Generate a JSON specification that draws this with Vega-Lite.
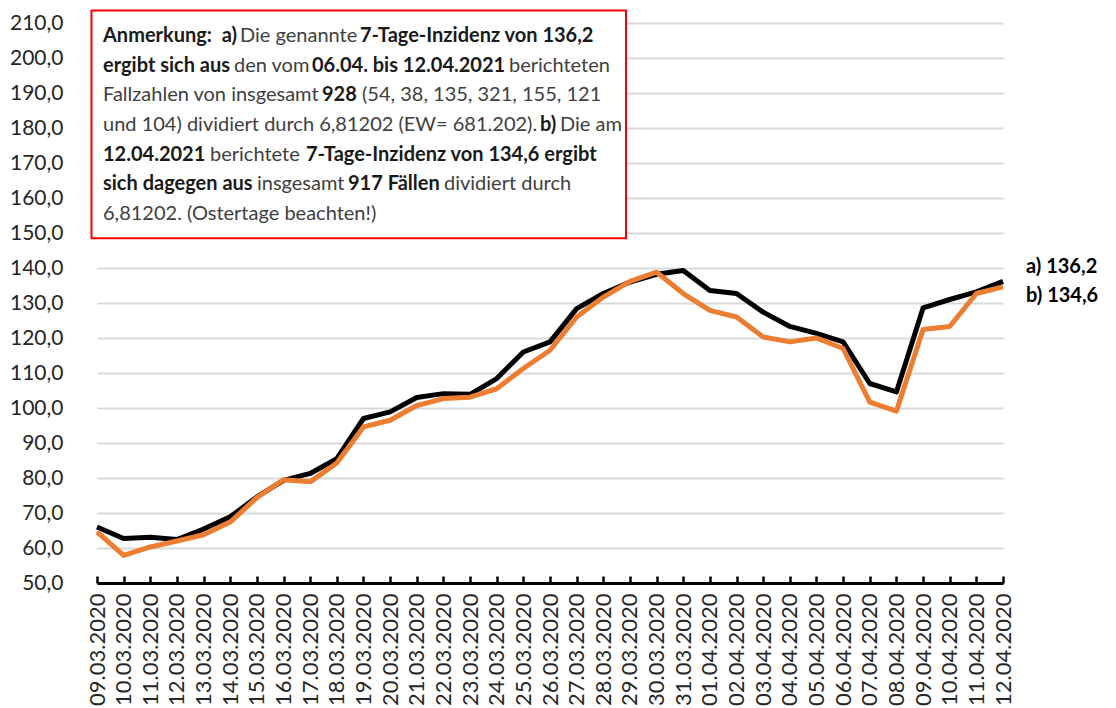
{
  "$schema": "https://vega.github.io/schema/vega-lite/v6.json",
  "autosize": "none",
  "width": 906,
  "height": 560,
  "padding": {"left": 97, "top": 23, "right": 113, "bottom": 125},
  "background": "#ffffff",
  "config": {
    "view": {"stroke": null},
    "text": {"font": "Lato", "fontSize": 20, "align": "left", "baseline": "middle", "color": "#404040"},
    "axisY": {
      "labelOverlap": false,
      "labelExpr": "replace(format(datum.value, '.1f'), '.', ',')",
      "domain": false, "ticks": false, "labelPadding": 34, "labelFont": "Lato", "labelFontSize": 21,
      "labelColor": "#262626", "gridColor": "#d9d9d9", "gridWidth": 2
    }
  },
  "datasets": {
    "series": [
      {"date": "2020-03-09", "s": "a", "v": 66.0}, {"date": "2020-03-09", "s": "b", "v": 64.6},
      {"date": "2020-03-10", "s": "a", "v": 62.7}, {"date": "2020-03-10", "s": "b", "v": 57.9},
      {"date": "2020-03-11", "s": "a", "v": 63.1}, {"date": "2020-03-11", "s": "b", "v": 60.3},
      {"date": "2020-03-12", "s": "a", "v": 62.4}, {"date": "2020-03-12", "s": "b", "v": 62.0},
      {"date": "2020-03-13", "s": "a", "v": 65.4}, {"date": "2020-03-13", "s": "b", "v": 63.8},
      {"date": "2020-03-14", "s": "a", "v": 68.9}, {"date": "2020-03-14", "s": "b", "v": 67.4},
      {"date": "2020-03-15", "s": "a", "v": 74.6}, {"date": "2020-03-15", "s": "b", "v": 74.4},
      {"date": "2020-03-16", "s": "a", "v": 79.3}, {"date": "2020-03-16", "s": "b", "v": 79.5},
      {"date": "2020-03-17", "s": "a", "v": 81.3}, {"date": "2020-03-17", "s": "b", "v": 78.9},
      {"date": "2020-03-18", "s": "a", "v": 85.5}, {"date": "2020-03-18", "s": "b", "v": 84.3},
      {"date": "2020-03-19", "s": "a", "v": 97.0}, {"date": "2020-03-19", "s": "b", "v": 94.6},
      {"date": "2020-03-20", "s": "a", "v": 98.9}, {"date": "2020-03-20", "s": "b", "v": 96.5},
      {"date": "2020-03-21", "s": "a", "v": 103.0}, {"date": "2020-03-21", "s": "b", "v": 100.7},
      {"date": "2020-03-22", "s": "a", "v": 104.1}, {"date": "2020-03-22", "s": "b", "v": 102.7},
      {"date": "2020-03-23", "s": "a", "v": 103.9}, {"date": "2020-03-23", "s": "b", "v": 103.1},
      {"date": "2020-03-24", "s": "a", "v": 108.4}, {"date": "2020-03-24", "s": "b", "v": 105.5},
      {"date": "2020-03-25", "s": "a", "v": 116.0}, {"date": "2020-03-25", "s": "b", "v": 111.3},
      {"date": "2020-03-26", "s": "a", "v": 118.9}, {"date": "2020-03-26", "s": "b", "v": 116.5},
      {"date": "2020-03-27", "s": "a", "v": 128.4}, {"date": "2020-03-27", "s": "b", "v": 126.0},
      {"date": "2020-03-28", "s": "a", "v": 132.7}, {"date": "2020-03-28", "s": "b", "v": 131.7},
      {"date": "2020-03-29", "s": "a", "v": 136.0}, {"date": "2020-03-29", "s": "b", "v": 136.2},
      {"date": "2020-03-30", "s": "a", "v": 138.2}, {"date": "2020-03-30", "s": "b", "v": 138.8},
      {"date": "2020-03-31", "s": "a", "v": 139.3}, {"date": "2020-03-31", "s": "b", "v": 132.7},
      {"date": "2020-04-01", "s": "a", "v": 133.6}, {"date": "2020-04-01", "s": "b", "v": 127.9},
      {"date": "2020-04-02", "s": "a", "v": 132.7}, {"date": "2020-04-02", "s": "b", "v": 126.0},
      {"date": "2020-04-03", "s": "a", "v": 127.4}, {"date": "2020-04-03", "s": "b", "v": 120.3},
      {"date": "2020-04-04", "s": "a", "v": 123.3}, {"date": "2020-04-04", "s": "b", "v": 118.9},
      {"date": "2020-04-05", "s": "a", "v": 121.3}, {"date": "2020-04-05", "s": "b", "v": 120.0},
      {"date": "2020-04-06", "s": "a", "v": 118.9}, {"date": "2020-04-06", "s": "b", "v": 117.0},
      {"date": "2020-04-07", "s": "a", "v": 107.0}, {"date": "2020-04-07", "s": "b", "v": 101.7},
      {"date": "2020-04-08", "s": "a", "v": 104.6}, {"date": "2020-04-08", "s": "b", "v": 99.1},
      {"date": "2020-04-09", "s": "a", "v": 128.6}, {"date": "2020-04-09", "s": "b", "v": 122.4},
      {"date": "2020-04-10", "s": "a", "v": 131.0}, {"date": "2020-04-10", "s": "b", "v": 123.3},
      {"date": "2020-04-11", "s": "a", "v": 133.2}, {"date": "2020-04-11", "s": "b", "v": 132.7},
      {"date": "2020-04-12", "s": "a", "v": 136.2}, {"date": "2020-04-12", "s": "b", "v": 134.6}
    ],
    "one": [{"k": 1}]
  },
  "layer": [
    {
      "data": {"name": "series"},
      "mark": {"type": "line", "strokeWidth": 5, "strokeJoin": "round"},
      "encoding": {
        "x": {
          "field": "date", "type": "temporal",
          "scale": {"type": "utc", "domain": [1583712000000, 1586649600000], "nice": false},
          "axis": {
            "title": null, "format": "%d.%m.%Y", "tickCount": {"interval": "day", "step": 1},
            "grid": false, "labelAngle": -90, "labelAlign": "right", "labelBaseline": "middle",
            "labelFlush": false, "labelOverlap": false, "labelFont": "Lato", "labelFontSize": 22,
            "labelColor": "#262626", "labelPadding": 17,
            "domainColor": "#000000", "domainWidth": 3, "tickColor": "#000000", "tickWidth": 2.5, "tickSize": -7
          }
        },
        "y": {
          "field": "v", "type": "quantitative",
          "scale": {"domain": [50, 210], "nice": false, "zero": false},
          "axis": {"title": null, "labelOverlap": false, "values": [50, 60, 70, 80, 90, 100, 110, 120, 130, 140, 150, 160, 170, 180, 190, 200, 210]}
        },
        "color": {"field": "s", "type": "nominal", "scale": {"domain": ["a", "b"], "range": ["#000000", "#ED7D31"]}, "legend": null}
      }
    },
    {
      "data": {"name": "series"},
      "transform": [{"filter": "datum.s == 'a' && datum.v == 136.2"}],
      "mark": {"type": "text", "text": "a) 136,2", "fontWeight": "bold", "fontSize": 20, "color": "#000000", "dx": 23, "dy": -14},
      "encoding": {"x": {"field": "date", "type": "temporal"}, "y": {"field": "v", "type": "quantitative", "axis": {"title": null, "labelOverlap": false, "values": [50, 60, 70, 80, 90, 100, 110, 120, 130, 140, 150, 160, 170, 180, 190, 200, 210]}}}
    },
    {
      "data": {"name": "series"},
      "transform": [{"filter": "datum.s == 'b' && datum.v == 134.6"}],
      "mark": {"type": "text", "text": "b) 134,6", "fontWeight": "bold", "fontSize": 20, "color": "#000000", "dx": 23, "dy": 9},
      "encoding": {"x": {"field": "date", "type": "temporal"}, "y": {"field": "v", "type": "quantitative", "axis": {"title": null, "labelOverlap": false, "values": [50, 60, 70, 80, 90, 100, 110, 120, 130, 140, 150, 160, 170, 180, 190, 200, 210]}}}
    },
    {
      "data": {"name": "one"},
      "mark": {"type": "rect", "fill": "#ffffff", "stroke": "#ff0000", "strokeWidth": 2},
      "encoding": {
        "x": {"datum": 1583694167000, "type": "temporal"},
        "x2": {"datum": 1585427225000},
        "y": {"datum": 213.6, "type": "quantitative", "axis": {"title": null, "labelOverlap": false, "values": [50, 60, 70, 80, 90, 100, 110, 120, 130, 140, 150, 160, 170, 180, 190, 200, 210]}},
        "y2": {"datum": 148.5}
      }
    },
    {"data": {"name": "one"}, "mark": {"type": "text", "text": "Anmerkung:\u00a0 a)", "fontWeight": "bold", "color": "#1a1a1a"},
     "encoding": {"x": {"datum": 1583731454000, "type": "temporal"}, "y": {"datum": 206.2, "type": "quantitative", "axis": {"title": null, "labelOverlap": false, "values": [50, 60, 70, 80, 90, 100, 110, 120, 130, 140, 150, 160, 170, 180, 190, 200, 210]}}}},
    {"data": {"name": "one"}, "mark": {"type": "text", "text": "Die genannte"},
     "encoding": {"x": {"datum": 1584175662000, "type": "temporal"}, "y": {"datum": 206.2, "type": "quantitative", "axis": {"title": null, "labelOverlap": false, "values": [50, 60, 70, 80, 90, 100, 110, 120, 130, 140, 150, 160, 170, 180, 190, 200, 210]}}}},
    {"data": {"name": "one"}, "mark": {"type": "text", "text": "7-Tage-Inzidenz von 136,2", "fontWeight": "bold", "color": "#1a1a1a"},
     "encoding": {"x": {"datum": 1584564749000, "type": "temporal"}, "y": {"datum": 206.2, "type": "quantitative", "axis": {"title": null, "labelOverlap": false, "values": [50, 60, 70, 80, 90, 100, 110, 120, 130, 140, 150, 160, 170, 180, 190, 200, 210]}}}},

    {"data": {"name": "one"}, "mark": {"type": "text", "text": "ergibt sich aus", "fontWeight": "bold", "color": "#1a1a1a"},
     "encoding": {"x": {"datum": 1583731454000, "type": "temporal"}, "y": {"datum": 197.7, "type": "quantitative", "axis": {"title": null, "labelOverlap": false, "values": [50, 60, 70, 80, 90, 100, 110, 120, 130, 140, 150, 160, 170, 180, 190, 200, 210]}}}},
    {"data": {"name": "one"}, "mark": {"type": "text", "text": "den vom"},
     "encoding": {"x": {"datum": 1584156208000, "type": "temporal"}, "y": {"datum": 197.7, "type": "quantitative", "axis": {"title": null, "labelOverlap": false, "values": [50, 60, 70, 80, 90, 100, 110, 120, 130, 140, 150, 160, 170, 180, 190, 200, 210]}}}},
    {"data": {"name": "one"}, "mark": {"type": "text", "text": "06.04. bis 12.04.2021", "fontWeight": "bold", "color": "#1a1a1a"},
     "encoding": {"x": {"datum": 1584409114000, "type": "temporal"}, "y": {"datum": 197.7, "type": "quantitative", "axis": {"title": null, "labelOverlap": false, "values": [50, 60, 70, 80, 90, 100, 110, 120, 130, 140, 150, 160, 170, 180, 190, 200, 210]}}}},
    {"data": {"name": "one"}, "mark": {"type": "text", "text": "berichteten"},
     "encoding": {"x": {"datum": 1585047865000, "type": "temporal"}, "y": {"datum": 197.7, "type": "quantitative", "axis": {"title": null, "labelOverlap": false, "values": [50, 60, 70, 80, 90, 100, 110, 120, 130, 140, 150, 160, 170, 180, 190, 200, 210]}}}},

    {"data": {"name": "one"}, "mark": {"type": "text", "text": "Fallzahlen von insgesamt"},
     "encoding": {"x": {"datum": 1583731454000, "type": "temporal"}, "y": {"datum": 189.3, "type": "quantitative", "axis": {"title": null, "labelOverlap": false, "values": [50, 60, 70, 80, 90, 100, 110, 120, 130, 140, 150, 160, 170, 180, 190, 200, 210]}}}},
    {"data": {"name": "one"}, "mark": {"type": "text", "text": "928", "fontWeight": "bold", "color": "#1a1a1a"},
     "encoding": {"x": {"datum": 1584441538000, "type": "temporal"}, "y": {"datum": 189.3, "type": "quantitative", "axis": {"title": null, "labelOverlap": false, "values": [50, 60, 70, 80, 90, 100, 110, 120, 130, 140, 150, 160, 170, 180, 190, 200, 210]}}}},
    {"data": {"name": "one"}, "mark": {"type": "text", "text": "(54, 38, 135, 321, 155, 121"},
     "encoding": {"x": {"datum": 1584571234000, "type": "temporal"}, "y": {"datum": 189.3, "type": "quantitative", "axis": {"title": null, "labelOverlap": false, "values": [50, 60, 70, 80, 90, 100, 110, 120, 130, 140, 150, 160, 170, 180, 190, 200, 210]}}}},

    {"data": {"name": "one"}, "mark": {"type": "text", "text": "und 104) dividiert durch 6,81202 (EW= 681.202)."},
     "encoding": {"x": {"datum": 1583731454000, "type": "temporal"}, "y": {"datum": 180.8, "type": "quantitative", "axis": {"title": null, "labelOverlap": false, "values": [50, 60, 70, 80, 90, 100, 110, 120, 130, 140, 150, 160, 170, 180, 190, 200, 210]}}}},
    {"data": {"name": "one"}, "mark": {"type": "text", "text": "b)", "fontWeight": "bold", "color": "#1a1a1a"},
     "encoding": {"x": {"datum": 1585148379000, "type": "temporal"}, "y": {"datum": 180.8, "type": "quantitative", "axis": {"title": null, "labelOverlap": false, "values": [50, 60, 70, 80, 90, 100, 110, 120, 130, 140, 150, 160, 170, 180, 190, 200, 210]}}}},
    {"data": {"name": "one"}, "mark": {"type": "text", "text": "Die am"},
     "encoding": {"x": {"datum": 1585213227000, "type": "temporal"}, "y": {"datum": 180.8, "type": "quantitative", "axis": {"title": null, "labelOverlap": false, "values": [50, 60, 70, 80, 90, 100, 110, 120, 130, 140, 150, 160, 170, 180, 190, 200, 210]}}}},

    {"data": {"name": "one"}, "mark": {"type": "text", "text": "12.04.2021", "fontWeight": "bold", "color": "#1a1a1a"},
     "encoding": {"x": {"datum": 1583731454000, "type": "temporal"}, "y": {"datum": 172.4, "type": "quantitative", "axis": {"title": null, "labelOverlap": false, "values": [50, 60, 70, 80, 90, 100, 110, 120, 130, 140, 150, 160, 170, 180, 190, 200, 210]}}}},
    {"data": {"name": "one"}, "mark": {"type": "text", "text": "berichtete"},
     "encoding": {"x": {"datum": 1584078390000, "type": "temporal"}, "y": {"datum": 172.4, "type": "quantitative", "axis": {"title": null, "labelOverlap": false, "values": [50, 60, 70, 80, 90, 100, 110, 120, 130, 140, 150, 160, 170, 180, 190, 200, 210]}}}},
    {"data": {"name": "one"}, "mark": {"type": "text", "text": "7-Tage-Inzidenz von 134,6 ergibt", "fontWeight": "bold", "color": "#1a1a1a"},
     "encoding": {"x": {"datum": 1584389660000, "type": "temporal"}, "y": {"datum": 172.4, "type": "quantitative", "axis": {"title": null, "labelOverlap": false, "values": [50, 60, 70, 80, 90, 100, 110, 120, 130, 140, 150, 160, 170, 180, 190, 200, 210]}}}},

    {"data": {"name": "one"}, "mark": {"type": "text", "text": "sich dagegen aus", "fontWeight": "bold", "color": "#1a1a1a"},
     "encoding": {"x": {"datum": 1583731454000, "type": "temporal"}, "y": {"datum": 163.9, "type": "quantitative", "axis": {"title": null, "labelOverlap": false, "values": [50, 60, 70, 80, 90, 100, 110, 120, 130, 140, 150, 160, 170, 180, 190, 200, 210]}}}},
    {"data": {"name": "one"}, "mark": {"type": "text", "text": "insgesamt"},
     "encoding": {"x": {"datum": 1584230783000, "type": "temporal"}, "y": {"datum": 163.9, "type": "quantitative", "axis": {"title": null, "labelOverlap": false, "values": [50, 60, 70, 80, 90, 100, 110, 120, 130, 140, 150, 160, 170, 180, 190, 200, 210]}}}},
    {"data": {"name": "one"}, "mark": {"type": "text", "text": "917 Fällen", "fontWeight": "bold", "color": "#1a1a1a"},
     "encoding": {"x": {"datum": 1584525840000, "type": "temporal"}, "y": {"datum": 163.9, "type": "quantitative", "axis": {"title": null, "labelOverlap": false, "values": [50, 60, 70, 80, 90, 100, 110, 120, 130, 140, 150, 160, 170, 180, 190, 200, 210]}}}},
    {"data": {"name": "one"}, "mark": {"type": "text", "text": "dividiert durch"},
     "encoding": {"x": {"datum": 1584837110000, "type": "temporal"}, "y": {"datum": 163.9, "type": "quantitative", "axis": {"title": null, "labelOverlap": false, "values": [50, 60, 70, 80, 90, 100, 110, 120, 130, 140, 150, 160, 170, 180, 190, 200, 210]}}}},

    {"data": {"name": "one"}, "mark": {"type": "text", "text": "6,81202. (Ostertage beachten!)"},
     "encoding": {"x": {"datum": 1583731454000, "type": "temporal"}, "y": {"datum": 155.5, "type": "quantitative", "axis": {"title": null, "labelOverlap": false, "values": [50, 60, 70, 80, 90, 100, 110, 120, 130, 140, 150, 160, 170, 180, 190, 200, 210]}}}}
  ]
}
